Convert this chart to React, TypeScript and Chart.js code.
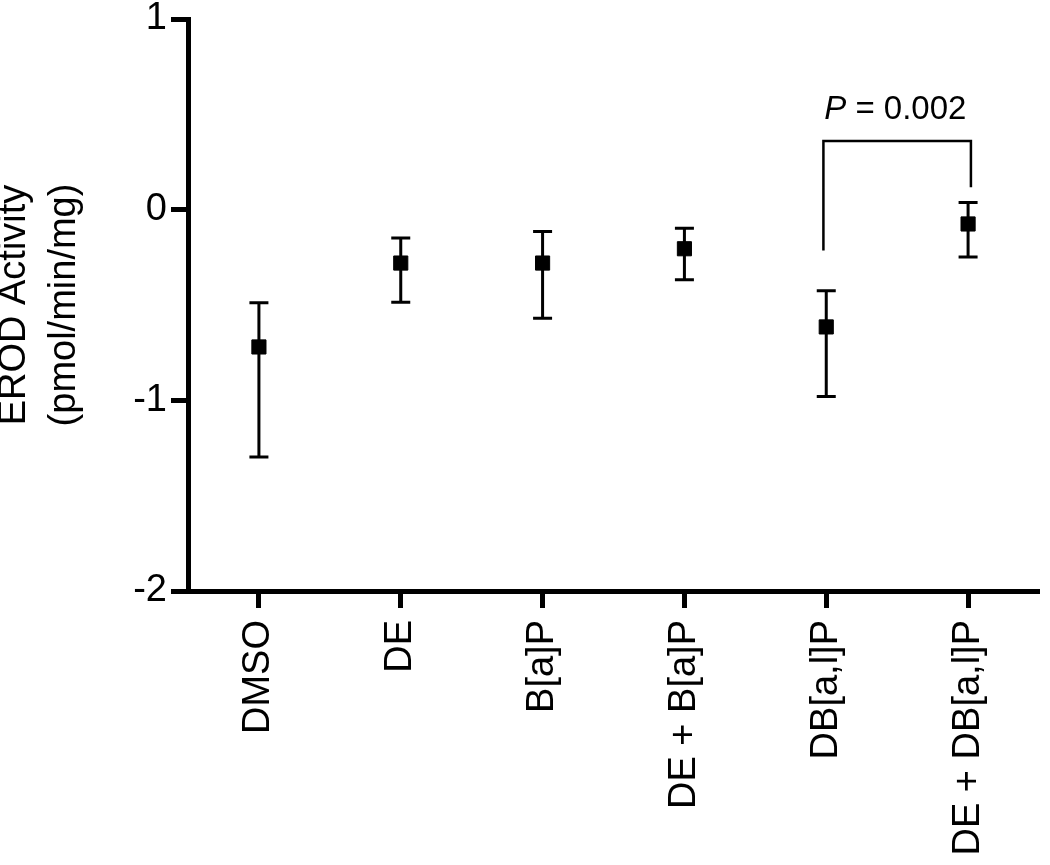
import React, { useEffect, useRef } from "react";
import { Chart, registerables } from "chart.js";

Chart.register(...registerables);

const categories = ["DMSO", "DE", "B[a]P", "DE + B[a]P", "DB[a,l]P", "DE + DB[a,l]P"];
const means = [-0.72, -0.28, -0.28, -0.205, -0.615, -0.075];
const upper = [-0.488, -0.148, -0.115, -0.098, -0.425, 0.038];
const lower = [-1.297, -0.485, -0.569, -0.367, -0.98, -0.248];
const yTicks = [1, 0, -1, -2];

// significance bracket (category positions, y values)
const bracketX = [3.98, 5.02];
const bracketTop = 0.36;
const bracketBottoms = [-0.214, 0.117];
const pLabelX = 4.487;
const pLabelY = 0.476;
const pLabelItalic = "P";
const pLabelRest = " = 0.002";

const FONT = '"Liberation Sans", Arial, Helvetica, sans-serif';

const annotationPlugin = {
  id: "errAndBracket",
  beforeDatasetsDraw(chart: any) {
    const { ctx } = chart;
    const xs = chart.scales.x;
    const ys = chart.scales.y;
    ctx.save();
    ctx.strokeStyle = "#000";
    ctx.lineWidth = 3;
    ctx.lineCap = "butt";
    const capHalf = 9.5;
    for (let i = 0; i < categories.length; i++) {
      const x = xs.getPixelForValue(i);
      const yt = ys.getPixelForValue(upper[i]);
      const yb = ys.getPixelForValue(lower[i]);
      ctx.beginPath();
      ctx.moveTo(x, yt);
      ctx.lineTo(x, yb);
      ctx.moveTo(x - capHalf, yt);
      ctx.lineTo(x + capHalf, yt);
      ctx.moveTo(x - capHalf, yb);
      ctx.lineTo(x + capHalf, yb);
      ctx.stroke();
    }
    // bracket
    const x1 = xs.getPixelForValue(bracketX[0]);
    const x2 = xs.getPixelForValue(bracketX[1]);
    const yTop = ys.getPixelForValue(bracketTop);
    ctx.lineWidth = 2.5;
    ctx.beginPath();
    ctx.moveTo(x1, ys.getPixelForValue(bracketBottoms[0]));
    ctx.lineTo(x1, yTop);
    ctx.lineTo(x2, yTop);
    ctx.lineTo(x2, ys.getPixelForValue(bracketBottoms[1]));
    ctx.stroke();
    // p label
    const cx = xs.getPixelForValue(pLabelX);
    const by = ys.getPixelForValue(pLabelY);
    ctx.fillStyle = "#000";
    ctx.textBaseline = "alphabetic";
    ctx.textAlign = "left";
    ctx.font = `italic 33px ${FONT}`;
    const w1 = ctx.measureText(pLabelItalic).width;
    ctx.font = `33px ${FONT}`;
    const w2 = ctx.measureText(pLabelRest).width;
    const start = cx - (w1 + w2) / 2;
    ctx.font = `italic 33px ${FONT}`;
    ctx.fillText(pLabelItalic, start, by);
    ctx.font = `33px ${FONT}`;
    ctx.fillText(pLabelRest, start + w1, by);
    ctx.restore();
  },
};

export default function App() {
  const ref = useRef<HTMLCanvasElement | null>(null);
  useEffect(() => {
    if (!ref.current) return;
    const chart = new Chart(ref.current, {
      type: "line",
      data: {
        labels: categories,
        datasets: [
          {
            data: means,
            showLine: false,
            pointStyle: "rect",
            pointRadius: 10,
            pointHoverRadius: 10,
            pointBackgroundColor: "#000",
            pointBorderColor: "#000",
            pointBorderWidth: 1,
          },
        ],
      },
      options: {
        responsive: false,
        animation: false,
        events: [],
        layout: { padding: { top: 19, right: 4, left: 0, bottom: 0 } },
        plugins: { legend: { display: false }, tooltip: { enabled: false } },
        scales: {
          x: {
            type: "category",
            offset: true,
            grid: {
              display: true,
              drawOnChartArea: false,
              drawTicks: true,
              tickLength: 17,
              tickWidth: 5,
              tickColor: "#000",
              offset: false,
            },
            border: { display: true, width: 5, color: "#000" },
            ticks: {
              color: "#000",
              font: { family: FONT, size: 38 },
              maxRotation: 90,
              minRotation: 90,
              autoSkip: false,
              padding: 12,
            },
            afterFit(scale: any) {
              scale.height = 274;
              scale.paddingRight = 0;
              scale.paddingLeft = 0;
            },
          },
          y: {
            min: -2,
            max: 1,
            afterBuildTicks(scale: any) {
              scale.ticks = yTicks.map((v) => ({ value: v }));
            },
            grid: {
              display: true,
              drawOnChartArea: false,
              drawTicks: true,
              tickLength: 17,
              tickWidth: 5,
              tickColor: "#000",
            },
            border: { display: true, width: 5, color: "#000" },
            ticks: {
              color: "#000",
              font: { family: FONT, size: 38, lineHeight: 0.75 },
              padding: 4,
              callback: (v: any) => String(v),
            },
            title: {
              display: true,
              text: ["EROD Activity", "(pmol/min/mg)"],
              color: "#000",
              font: { family: FONT, size: 38, lineHeight: 1.32 },
              padding: { top: -11, bottom: 0 },
            },
            afterFit(scale: any) {
              scale.width = 188;
            },
          },
        },
      },
      plugins: [annotationPlugin],
    });
    return () => chart.destroy();
  }, []);
  return (
    <canvas
      ref={ref}
      width={1050}
      height={865}
      style={{ position: "absolute", left: 0, top: 0, width: 1050, height: 865 }}
    />
  );
}
